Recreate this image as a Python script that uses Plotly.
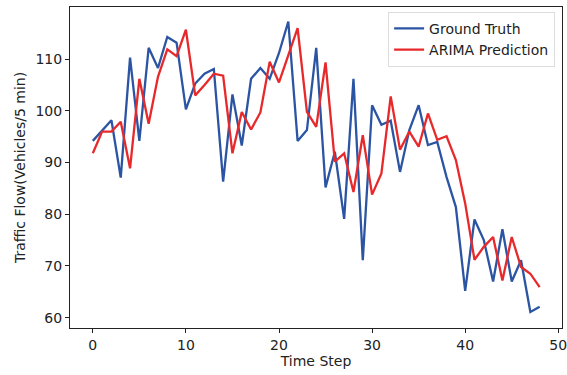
import plotly.graph_objects as go

time_steps = list(range(49))
ground_truth = [94.2, 96.1, 98.2, 87.1, 110.3, 94.2, 112.2, 108.3, 114.3, 113.2,
                100.3, 105.3, 107.2, 108.1, 86.3, 103.2, 93.3, 106.2, 108.3, 106.2,
                111.2, 117.3, 94.2, 96.3, 112.2, 85.2, 92.1, 79.1, 106.2, 71.1,
                101.1, 97.3, 98.1, 88.2, 96.3, 101.1, 93.4, 94.0, 87.2, 81.4,
                65.2, 79.0, 75.0, 67.0, 77.1, 67.0, 71.1, 61.1, 62.1]
arima_pred = [91.8, 96.0, 96.0, 97.9, 88.9, 106.2, 97.5, 106.6, 111.9, 110.6,
              115.7, 103.0, 105.0, 107.2, 106.8, 91.8, 99.8, 96.4, 99.7, 109.5,
              105.5, 110.8, 116.0, 99.8, 96.9, 109.4, 90.2, 91.8, 84.3, 95.3,
              83.8, 87.9, 102.8, 92.5, 96.0, 93.1, 99.5, 94.4, 95.1, 90.5,
              82.1, 71.2, 73.7, 75.6, 67.2, 75.6, 69.8, 68.5, 65.9]
x_ticks = [0, 10, 20, 30, 40, 50]
y_ticks = [60, 70, 80, 90, 100, 110]

fig = go.Figure()
fig.add_trace(go.Scatter(x=time_steps, y=ground_truth, mode="lines", name="Ground Truth",
                         line=dict(color="#2b55a3", width=2.3)))
fig.add_trace(go.Scatter(x=time_steps, y=arima_pred, mode="lines", name="ARIMA Prediction",
                         line=dict(color="#e8292b", width=2.3)))

axis_common = dict(showline=True, mirror=True, linecolor="#222222", linewidth=1,
                   ticks="outside", ticklen=4, tickcolor="#222222", showgrid=False,
                   zeroline=False, tickfont=dict(size=14, color="#222222"),
                   ticklabeloverflow="allow", automargin=False)
fig.update_layout(
    width=567, height=375,
    margin=dict(l=70, r=5, t=7, b=47),
    paper_bgcolor="white", plot_bgcolor="white",
    font=dict(family="DejaVu Sans", size=14, color="#222222"),
    xaxis=dict(range=[-2.45, 50.4], tickvals=x_ticks,
               title=dict(text="Time Step", font=dict(size=14), standoff=2), **axis_common),
    yaxis=dict(range=[58.0, 120.1], tickvals=y_ticks,
               title=dict(text="Traffic Flow(Vehicles/5 min)", font=dict(size=14), standoff=6),
               **axis_common),
    legend=dict(x=0.986, y=0.985, xanchor="right", yanchor="top",
                bgcolor="white", bordercolor="#dddddd", borderwidth=1,
                font=dict(size=14), tracegroupgap=0),
    showlegend=True,
)
fig.write_html("out.html")
